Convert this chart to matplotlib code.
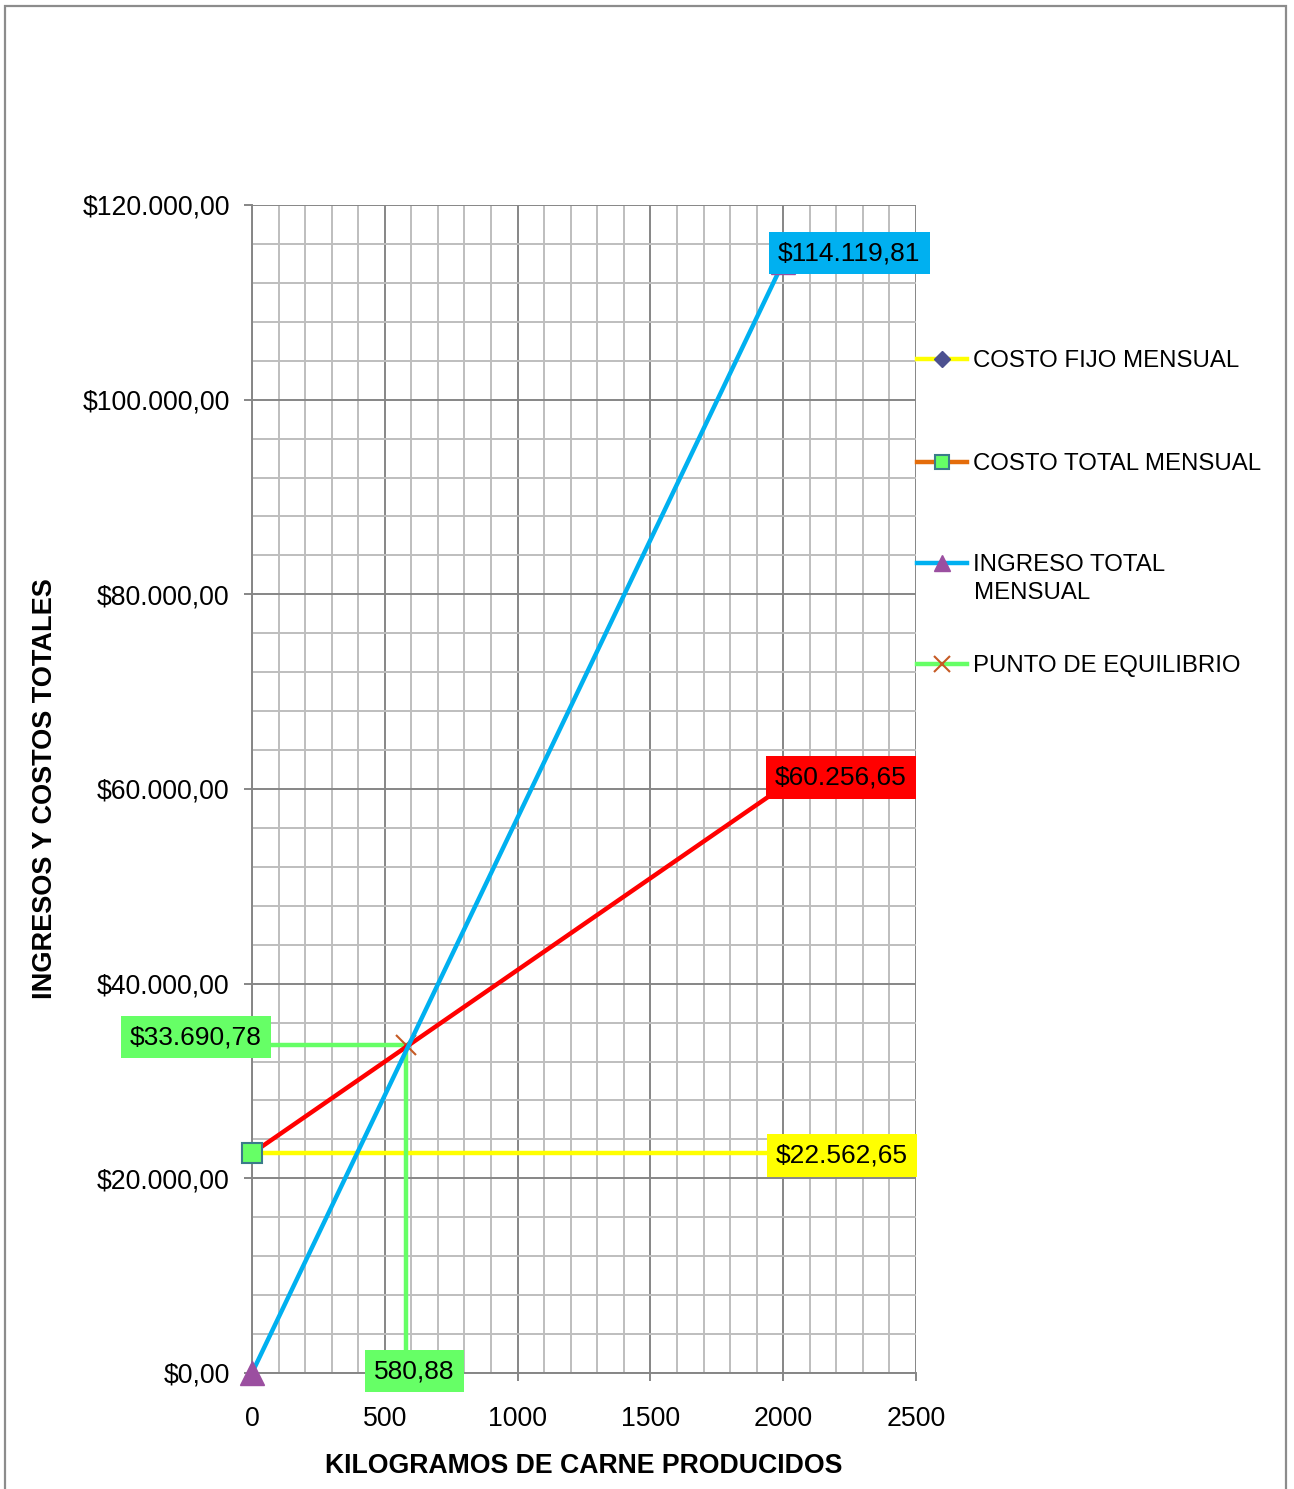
import matplotlib
matplotlib.use("Agg")
import matplotlib.pyplot as plt
from matplotlib.lines import Line2D
from matplotlib.patches import Rectangle
from matplotlib.ticker import MultipleLocator, FuncFormatter

plt.rcParams["font.family"] = ["Liberation Sans", "DejaVu Sans"]

# Producción (kg) en los extremos del análisis
kg_points = [0, 2000]
costo_fijo = [22562.65, 22562.65]
costo_total = [22562.65, 60256.65]
ingreso_total = [0.0, 114119.81]

# Punto de equilibrio
eq_kg = 580.88
eq_monto = 33690.78
equilibrio_x = [0, eq_kg, eq_kg]
equilibrio_y = [eq_monto, eq_monto, 0]

series_names = ["COSTO FIJO MENSUAL", "COSTO TOTAL MENSUAL",
                "INGRESO TOTAL\nMENSUAL", "PUNTO DE EQUILIBRIO"]

x_ticks = [0, 500, 1000, 1500, 2000, 2500]
y_ticks = [0, 20000, 40000, 60000, 80000, 100000, 120000]


def pesos(v):
    s = f"{v:,.2f}"
    s = s.replace(",", "X").replace(".", ",").replace("X", ".")
    return "$" + s


def kg_fmt(v):
    return f"{v:.2f}".replace(".", ",")


W, H = 1294, 1489
fig = plt.figure(figsize=(W / 100, H / 100), dpi=100)
fig.patch.set_facecolor("white")

# marco exterior
fig.add_artist(Rectangle((4.5 / W, -0.01), (1286 - 4.5) / W, 1 - 5.5 / H + 0.01,
                         transform=fig.transFigure, fill=False,
                         edgecolor="#8C8C8C", linewidth=1.6))

ax = fig.add_axes([252 / W, 1 - 1373 / H, (916 - 252) / W, (1373 - 205) / H])
ax.set_xlim(0, 2500)
ax.set_ylim(0, 120000)

ax.xaxis.set_major_locator(MultipleLocator(500))
ax.xaxis.set_minor_locator(MultipleLocator(100))
ax.yaxis.set_major_locator(MultipleLocator(20000))
ax.yaxis.set_minor_locator(MultipleLocator(4000))
ax.set_xticks(x_ticks)
ax.set_yticks(y_ticks)
ax.yaxis.set_major_formatter(FuncFormatter(lambda v, p: pesos(v)))
ax.xaxis.set_major_formatter(FuncFormatter(lambda v, p: f"{int(v)}"))

ax.grid(which="minor", color="#BEBEBE", linewidth=1.4, zorder=0)
ax.grid(which="major", color="#868686", linewidth=1.4, zorder=0)
ax.set_axisbelow(True)
for sp in ax.spines.values():
    sp.set_visible(False)
for side in ("left", "bottom"):
    ax.spines[side].set_visible(True)
    ax.spines[side].set_color("#868686")
    ax.spines[side].set_linewidth(1.4)
ax.tick_params(which="major", direction="out", length=6, width=1.4,
               color="#868686", labelsize=19.2)
ax.tick_params(axis="y", pad=10)
ax.tick_params(axis="x", pad=18)
ax.tick_params(which="minor", length=0)

# series
lw = 3.2
ax.plot(kg_points, costo_fijo, color="#FFFF00", linewidth=lw, marker="D",
        markersize=8, markerfacecolor="#4D5190", markeredgecolor="#4D5190",
        zorder=3, clip_on=False)
ax.plot(equilibrio_x, equilibrio_y, color="#66FF66", linewidth=lw, marker="x",
        markersize=14, markeredgecolor="#C65A24", markeredgewidth=1.5,
        markevery=[1], zorder=3, clip_on=False)
ax.plot(kg_points, costo_total, color="#FF0000", linewidth=lw, marker="s",
        markersize=14, markerfacecolor="#66FF66", markeredgecolor="#3B7B8A",
        markeredgewidth=1.5, zorder=4, clip_on=False)
ax.plot(kg_points, ingreso_total, color="#00B0F0", linewidth=lw, marker="^",
        markersize=17, markerfacecolor="#9B4FA0", markeredgecolor="#9B4FA0",
        zorder=4, clip_on=False)

ax.set_xlabel("KILOGRAMOS DE CARNE PRODUCIDOS", fontsize=19.2, fontweight="bold")
ax.set_ylabel("INGRESOS Y COSTOS TOTALES", fontsize=19.5, fontweight="bold")
ax.xaxis.set_label_coords(0.5, -(1453 - 1373) / (1373 - 205))
ax.yaxis.set_label_coords((58 - 252) / (916 - 252), 0.5)


def etiqueta(texto, xy, dx, dy, fondo, ha="left"):
    ax.annotate(texto, xy=xy, xytext=(dx, dy), textcoords="offset pixels",
                ha=ha, va="center", fontsize=19, color="black", zorder=6,
                annotation_clip=False,
                bbox=dict(boxstyle="square,pad=0.35", facecolor=fondo,
                          edgecolor="none"))


etiqueta(pesos(ingreso_total[-1]), (kg_points[-1], ingreso_total[-1]), -5, 9, "#00B0F0")
etiqueta(pesos(costo_total[-1]), (kg_points[-1], costo_total[-1]), -8, 9, "#FF0000")
etiqueta(pesos(costo_fijo[-1]), (kg_points[-1], costo_fijo[-1]), -7, -2, "#FFFF00")
etiqueta(pesos(equilibrio_y[0]), (equilibrio_x[0], equilibrio_y[0]), 10, 8, "#66FF66", ha="right")
etiqueta(kg_fmt(equilibrio_x[-1]), (equilibrio_x[-1], equilibrio_y[-1]), 8, 2, "#66FF66", ha="center")

# leyenda
handles = [
    Line2D([], [], color="#FFFF00", linewidth=lw, marker="D", markersize=8,
           markerfacecolor="#4D5190", markeredgecolor="#4D5190"),
    Line2D([], [], color="#E46C0A", linewidth=lw, marker="s", markersize=10,
           markerfacecolor="#66FF66", markeredgecolor="#3B7B8A", markeredgewidth=1.5),
    Line2D([], [], color="#00B0F0", linewidth=lw, marker="^", markersize=12,
           markerfacecolor="#9B4FA0", markeredgecolor="#9B4FA0"),
    Line2D([], [], color="#66FF66", linewidth=lw, marker="x", markersize=11,
           markeredgecolor="#C65A24", markeredgewidth=1.5),
]
legend_y = [361, 464, 565, 666]
legend_fs = 17.3
for h, name, yy in zip(handles, series_names, legend_y):
    first, *rest = name.split("\n")
    fig.legend([h], [first], loc="center left",
               bbox_to_anchor=(917 / W, 1 - yy / H),
               frameon=False, fontsize=legend_fs, handlelength=2.1,
               handletextpad=0.22, borderpad=0, borderaxespad=0)
    for i, line in enumerate(rest, start=1):
        fig.text(974 / W, 1 - (yy + 28 * i) / H, line, fontsize=legend_fs,
                 ha="left", va="center")

fig.savefig("out.png", dpi=100)
